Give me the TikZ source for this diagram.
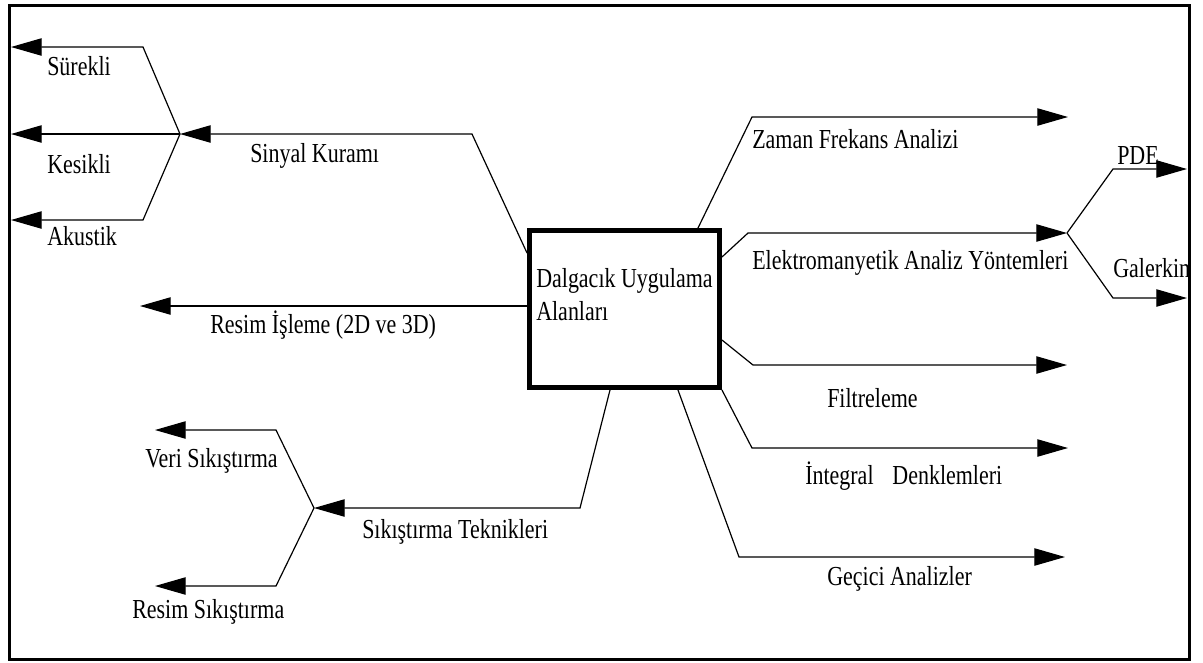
\documentclass[tikz,border=0pt]{standalone}
\usepackage{fontspec}
\setmainfont{Liberation Serif}[FakeStretch=0.8]
\usetikzlibrary{arrows.meta}

\tikzset{
  branch/.style={line width=0.9pt, -{Triangle[length=23pt,width=13pt]}},
  lbl/.style={anchor=base west, inner sep=0pt, font=\fontsize{20.6}{24.75}\selectfont},
  appbox/.style={draw, line width=4pt, minimum width=142.2pt, minimum height=117.5pt, inner sep=0pt},
}

\begin{document}
\begin{tikzpicture}[x=0.75pt,y=0.75pt,yscale=-1]
  \useasboundingbox (0,0) rectangle (1203,662);

  \begin{scope}
    \clip (9,5) rectangle (1189,659);

    %Shape: Rectangle [centre box]
    \node[appbox] (apps) at (624.5,309) {};
    % Text Node (base is the last line)
    \node[lbl, align=left] (appstext) at (536,320) {Dalgacık Uygulama\\Alanları};

    %Fork points
    \coordinate (sigj) at (180,134);
    \coordinate (sikj) at (314,508);
    \coordinate (elkj) at (1067,233);

    %Straight Lines [left side]
    \draw[branch] (apps.west |- 0,253) -- (472,134) -- (sigj);
    \draw[branch] (sigj) -- (143,47) -- (11,47);
    \draw[branch] (sigj) -- (11,134);
    \draw[branch] (sigj) -- (143,220) -- (11,220);
    \draw[branch] (apps.west |- 0,306) -- (140,306);
    \draw[branch] (apps.south -| 610,0) -- (580,508) -- (sikj);
    \draw[branch] (sikj) -- (276,430) -- (155,430);
    \draw[branch] (sikj) -- (276,586) -- (155,586);

    %Straight Lines [right side]
    \draw[branch] (apps.north -| 698,0) -- (752,117) -- (1068,117);
    \draw[branch] (apps.east |- 0,257) -- (748,233) -- (elkj);
    \draw[branch] (elkj) -- (1113,169) -- (1187,169);
    \draw[branch] (elkj) -- (1113,298) -- (1187,298);
    \draw[branch] (apps.east |- 0,340) -- (753,365) -- (1067,365);
    \draw[branch] (apps.south east) -- (752,448) -- (1068,448);
    \draw[branch] (apps.south -| 678,0) -- (739,557) -- (1065,557);

    % Text Node
    \node[lbl] (surekli) at (47,75) {Sürekli};
    \node[lbl] (kesikli) at (47,173) {Kesikli};
    \node[lbl] (akustik) at (47,245) {Akustik};
    \node[lbl] (sinyal) at (250,162) {Sinyal Kuramı};
    \node[lbl] (resim) at (210,333) {Resim İşleme (2D ve 3D)};
    \node[lbl] (veri) at (145,467) {Veri Sıkıştırma};
    \node[lbl] (resimsik) at (132,618) {Resim Sıkıştırma};
    \node[lbl] (teknik) at (362,538) {Sıkıştırma Teknikleri};
    \node[lbl] (zaman) at (752,148) {Zaman Frekans Analizi};
    \node[lbl] (elektro) at (752,269) {Elektromanyetik Analiz Yöntemleri};
    \node[lbl] (pde) at (1117,164) {PDE};
    \node[lbl] (galerkin) at (1113,277) {Galerkin};
    \node[lbl] (filtre) at (827,407) {Filtreleme};
    \node[lbl] (integral) at (805,484) {İntegral \hspace{10pt}Denklemleri};
    \node[lbl] (gecici) at (827,585) {Geçici Analizler};
  \end{scope}

  %Shape: Rectangle [outer frame]
  \draw[line width=2.25pt] (9.5,5.5) rectangle (1189,659);
\end{tikzpicture}
\end{document}
